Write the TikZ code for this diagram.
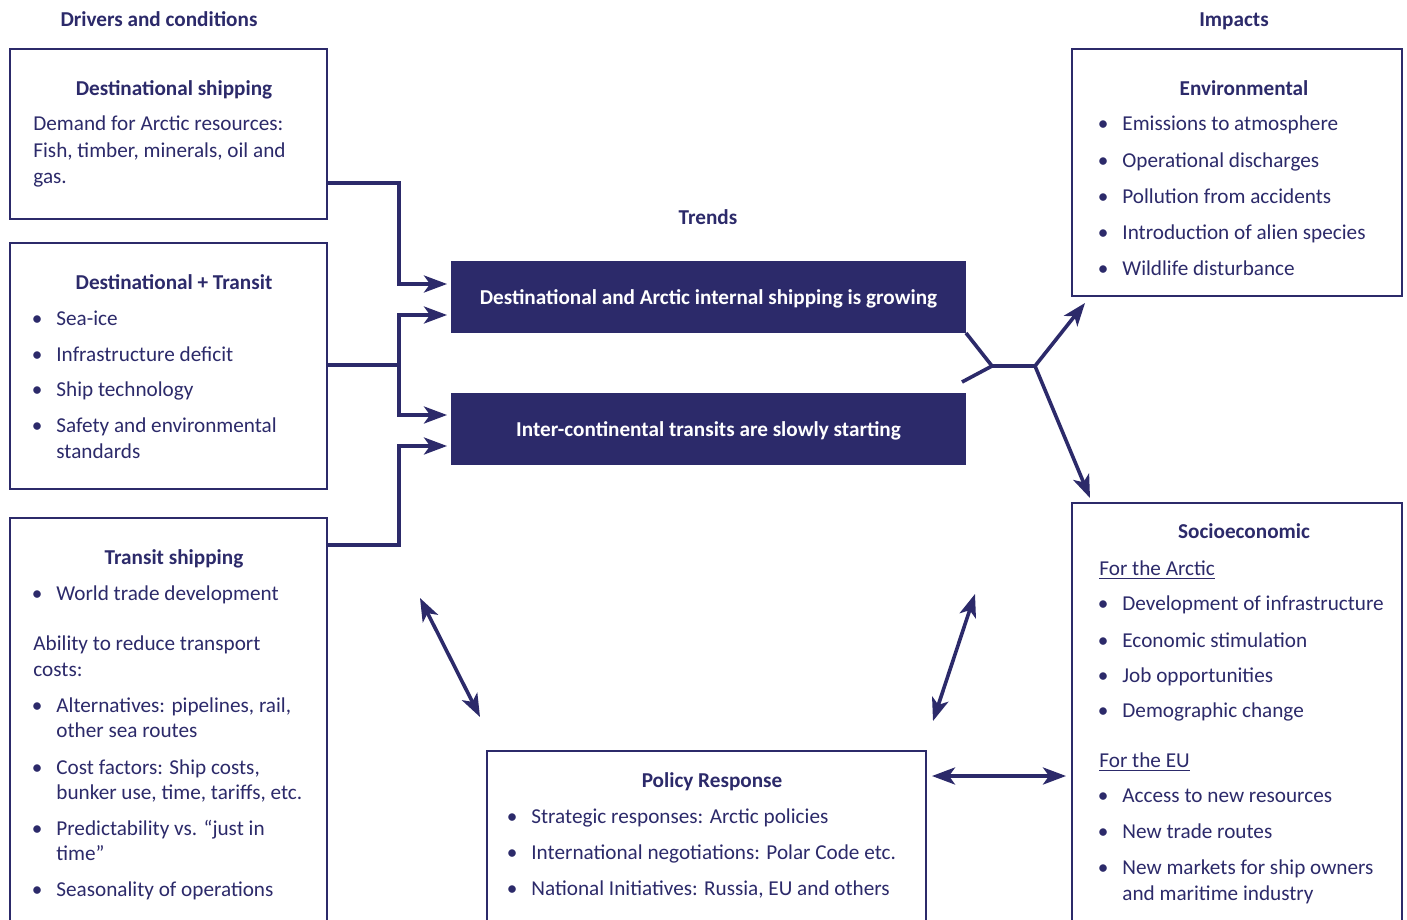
\documentclass[tikz,border=0pt]{standalone}
\usepackage{fontspec}
\setmainfont{Carlito}
\usetikzlibrary{arrows.meta,fit,calc}
\definecolor{navy}{RGB}{44,42,106}
\newcommand{\bul}{\llap{\textbullet\hspace{7pt}}}

\tikzset{
  box/.style={draw=navy, line width=1.4pt, inner sep=0pt, outer sep=0pt},
  trendbox/.style={fill=navy, text=white, font=\bfseries\fontsize{10.6}{13}\selectfont, inner sep=0pt, outer sep=0pt, text depth=0pt, minimum width=257.5pt, minimum height=36pt},
  txt/.style={anchor=base west, inner sep=0pt, text=navy},
  ttl/.style={anchor=base, inner sep=0pt, text=navy, font=\bfseries\fontsize{10.6}{13}\selectfont},
  link/.style={draw=navy, line width=1.8pt},
  arr/.style={link, -{Stealth[length=11.5pt,width=8.5pt,inset=3pt]}, shorten >=2pt},
  dbl/.style={link, {Stealth[length=11.5pt,width=8.5pt,inset=3pt]}-{Stealth[length=11.5pt,width=8.5pt,inset=3pt]}}
}

\begin{document}
\begin{tikzpicture}[x=0.5pt, y=-0.5pt, font=\fontsize{10.6}{13}\selectfont]
\clip (0,0) rectangle (1407,920);
\fill[white] (0,0) rectangle (1407,920);

%%%%% Headers %%%%%
\node[ttl] (drivers) at (159,27) {Drivers and conditions};
\node[ttl] (impacts) at (1234,27) {Impacts};
\node[ttl] (trends) at (708,224) {Trends};

%%%%% Boxes %%%%%
\node[box, fit={(10,49) (327,219)}] (dest) {};
\node[box, fit={(10,243) (327,489)}] (both) {};
\node[box, fit={(10,518) (327,940)}] (transit) {};
\node[box, fit={(1072,49) (1402,296)}] (env) {};
\node[box, fit={(1072,503) (1402,940)}] (socio) {};
\node[box, fit={(487,751) (926,940)}] (policy) {};
\node[trendbox] (grow) at (708.5,297) {Destinational and Arctic internal shipping is growing};
\node[trendbox] (start) at (708.5,429) {Inter-continental transits are slowly starting};

%%%%% Drivers %%%%%
\node[ttl] (dest-t) at (174,96) {Destinational shipping};
\foreach \y/\t [count=\i] in {131/Demand for Arctic resources:, 157/{Fish, timber, minerals, oil and}, 183/gas.}
  \node[txt] (dest-\i) at (33,\y) {\t};

\node[ttl] (both-t) at (174,289) {Destinational + Transit};
\foreach \y/\b/\t [count=\i] in {325/\bul/Sea-ice, 361/\bul/Infrastructure deficit, 396/\bul/Ship technology, 432/\bul/Safety and environmental, 458/{}/standards}
  \node[txt] (both-\i) at (56,\y) {\b\t};

\node[ttl] (transit-t) at (174,564) {Transit shipping};
\foreach \x/\y/\b/\t [count=\i] in {56/600/\bul/World trade development, 33/650/{}/Ability to reduce transport, 33/676/{}/costs:, 56/712/\bul/{Alternatives: pipelines, rail,}, 56/737/{}/other sea routes, 56/774/\bul/{Cost factors: Ship costs,}, 56/799/{}/{bunker use, time, tariffs, etc.}, 56/835/\bul/Predictability vs. “just in, 56/860/{}/time”, 56/896/\bul/Seasonality of operations}
  \node[txt] (transit-\i) at (\x,\y) {\b\t};

%%%%% Impacts %%%%%
\node[ttl] (env-t) at (1244,96) {Environmental};
\foreach \y/\t [count=\i] in {131/Emissions to atmosphere, 167/Operational discharges, 203/Pollution from accidents, 239/Introduction of alien species, 275/Wildlife disturbance}
  \node[txt] (env-\i) at (1122,\y) {\bul\t};

\node[ttl] (socio-t) at (1244,538) {Socioeconomic};
\foreach \x/\y/\b/\t [count=\i] in {1099/575/{}/\underline{For the Arctic}, 1122/610/\bul/Development of infrastructure, 1122/647/\bul/Economic stimulation, 1122/682/\bul/Job opportunities, 1122/717/\bul/Demographic change, 1099/767/{}/\underline{For the EU}, 1122/802/\bul/Access to new resources, 1122/838/\bul/New trade routes, 1122/874/\bul/New markets for ship owners, 1122/900/{}/and maritime industry}
  \node[txt] (socio-\i) at (\x,\y) {\b\t};

%%%%% Policy %%%%%
\node[ttl] (policy-t) at (712,787) {Policy Response};
\foreach \y/\t [count=\i] in {823/Strategic responses: Arctic policies, 859/International negotiations: Polar Code etc., 895/{National Initiatives: Russia, EU and others}}
  \node[txt] (policy-\i) at (531,\y) {\bul\t};

%%%%% Connectors left %%%%%
\coordinate (fork) at (399,365);
\draw[arr] (dest.east |- 0,183) -| (399,284) -- (grow.west |- 0,284);
\draw[link] (both.east |- fork) -- (fork);
\draw[arr] (fork) |- (grow.west |- 0,315);
\draw[arr] (fork) |- (start.west |- 0,415);
\draw[arr] (transit.east |- 0,545) -| (399,446) -- (start.west |- 0,446);

%%%%% Connectors right %%%%%
\coordinate (knee) at (992,366);
\coordinate (hub) at (1035,366);
\draw[link] (grow.south east) -- (knee) -- (hub);
\draw[link] ($(start.north east)+(-4,-11)$) -- (knee);
\draw[arr, shorten >=0pt] (hub) -- ($(env.south west)+(13,7)$);
\draw[arr, shorten >=0pt] (hub) -- ($(socio.north west)+(18,-5)$);

%%%%% Policy links %%%%%
\draw[dbl] ($(start.south west)+(-31,133)$) -- ($(policy.north west)+(-7,-34)$);
\draw[dbl] ($(start.south east)+(9,129)$) -- ($(policy.north east)+(7,-30)$);
\draw[dbl] ($(policy.north east)+(6,25)$) -- ($(socio.west |- 0,776)+(-6,0)$);
\end{tikzpicture}
\end{document}
